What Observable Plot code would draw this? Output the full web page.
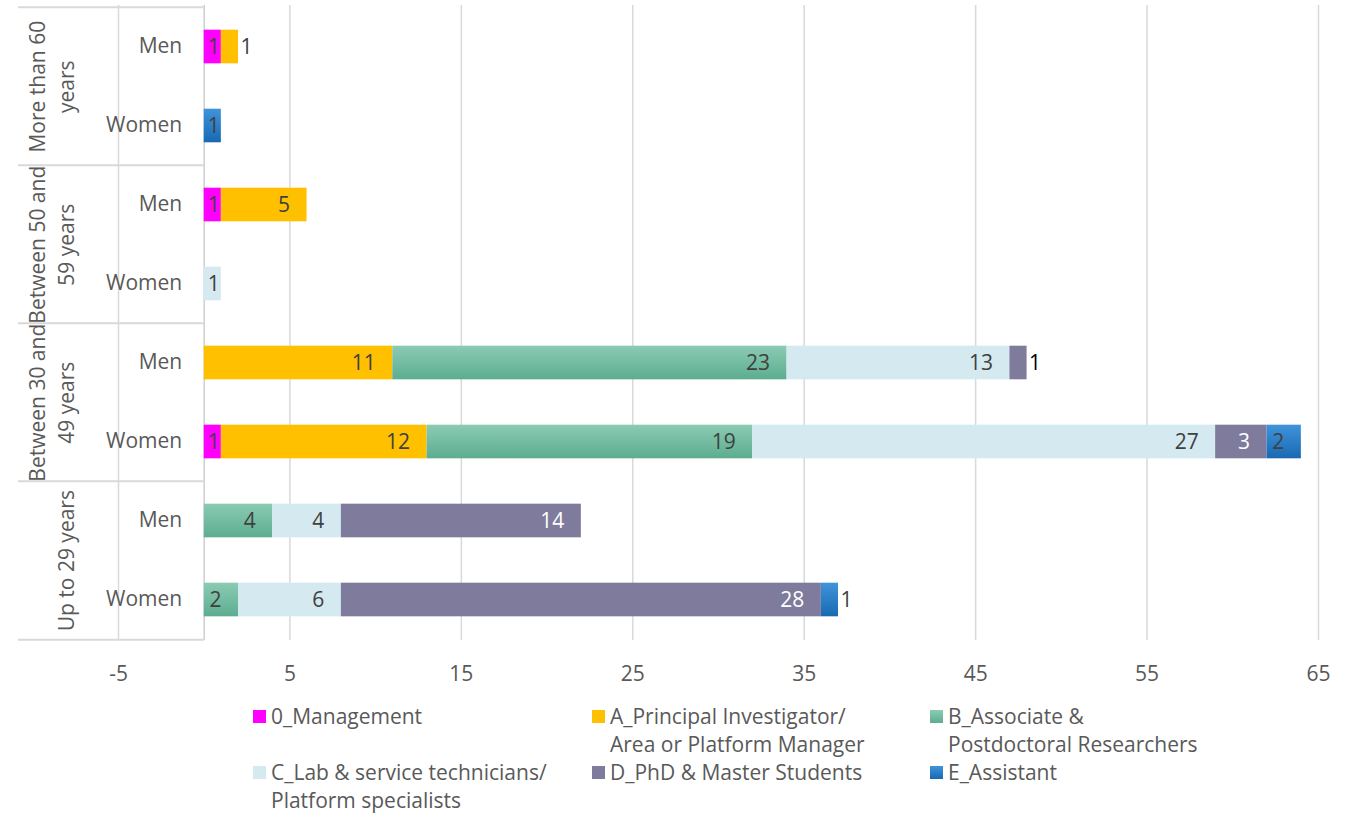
<!DOCTYPE html>
<html>
<head>
<meta charset="utf-8">
<script src="https://cdn.jsdelivr.net/npm/d3@7"></script>
<script src="https://cdn.jsdelivr.net/npm/@observablehq/plot@0.6"></script>
<style>
  body { margin: 0; background: #fff; font-family: "Open Sans", sans-serif; }
  #chart svg { display: block; }
  #legend { position: relative; width: 1350px; height: 123px; }
  .item { position: absolute; display: flex; align-items: flex-start; font-size: 21px; line-height: 28px; color: #595959; white-space: nowrap; }
  .sw { width: 13px; height: 13px; margin-top: 8px; margin-right: 5px; flex: none; }
</style>
</head>
<body>
<div id="chart"></div>
<div id="legend"></div>
<script>
// ---- data ----
const ageGroups = ["More than 60 years", "Between 50 and 59 years", "Between 30 and 49 years", "Up to 29 years"];
const ageLabels = ["More than 60\nyears", "Between 50 and\n59 years", "Between 30 and\n49 years", "Up to 29 years"];
const genders = ["Men", "Women"];
const series = [
  "0_Management",
  "A_Principal Investigator/ Area or Platform Manager",
  "B_Associate & Postdoctoral Researchers",
  "C_Lab & service technicians/ Platform specialists",
  "D_PhD & Master Students",
  "E_Assistant"
];
const legendLines = [
  ["0_Management"],
  ["A_Principal Investigator/", "Area or Platform Manager"],
  ["B_Associate &", "Postdoctoral Researchers"],
  ["C_Lab & service technicians/", "Platform specialists"],
  ["D_PhD & Master Students"],
  ["E_Assistant"]
];
// row order: 60+ Men, 60+ Women, 50-59 Men, 50-59 Women, 30-49 Men, 30-49 Women, <=29 Men, <=29 Women
const management = [1, 0, 1, 0, 0, 1, 0, 0];
const principal  = [1, 0, 5, 0, 11, 12, 0, 0];
const associate  = [0, 0, 0, 0, 23, 19, 4, 2];
const labTech    = [0, 0, 0, 1, 13, 27, 4, 6];
const phd        = [0, 0, 0, 0, 1, 3, 14, 28];
const assistant  = [0, 1, 0, 0, 0, 2, 0, 1];
const xTicks = [-5, 5, 15, 25, 35, 45, 55, 65];

const seriesValues = [management, principal, associate, labTech, phd, assistant];
const colors = ["#FF00FF", "#FFC000", "url(#gradB)", "#D5E9F0", "#7F7B9D", "url(#gradE)"];
const swatchCss = ["#FF00FF", "#FFC000", "linear-gradient(#8ACBB3,#5DAD90)", "#D5E9F0", "#7F7B9D", "linear-gradient(#4094DA,#1869B2)"];

// ---- build table ----
const rows = [];
ageGroups.forEach(a => genders.forEach(g => rows.push({key: a + "|" + g, age: a, gender: g})));
const data = [];
rows.forEach((r, i) => {
  const present = series.map((s, j) => seriesValues[j][i]).map((v, j) => ({v, j})).filter(o => o.v > 0);
  present.forEach((o, k) => {
    data.push({
      row: r.key, series: series[o.j], value: o.v,
      first: k === 0, last: k === present.length - 1
    });
  });
});
data.forEach(d => {
  d.outside = d.last && !d.first && d.value === 1;
  d.narrow = !d.outside && d.value === 1;
});
const groups = ageGroups.map((a, i) => ({row: a + "|" + genders[0], label: ageLabels[i]}));
const lastRow = rows[rows.length - 1].key;

// ---- layout ----
const W = 1350, H = 690, mT = 5, mB = 50, mL = 118, mR = 32;
const step = (H - mT - mB) / rows.length;
const barInset = (step - 34) / 2;
const lineColor = "#D9D9D9";
const fs = 21;
const isD = d => d.series === series[4];

const plot = Plot.plot({
  width: W, height: H,
  marginTop: mT, marginBottom: mB, marginLeft: mL, marginRight: mR,
  style: {fontFamily: '"Open Sans", sans-serif', fontSize: fs + "px", color: "#595959", background: "#fff"},
  x: {domain: [-5, 65], label: null},
  y: {domain: rows.map(r => r.key), padding: 0, axis: null},
  color: {domain: series, range: colors},
  marks: [
    Plot.gridX(xTicks, {stroke: lineColor, strokeOpacity: 1, strokeWidth: 1.5}),
    Plot.ruleX([0], {stroke: "#CFCFCF", strokeWidth: 1.5}),
    Plot.ruleY(groups, {y: "row", x1: -5, x2: 0, insetLeft: -100, dy: -step / 2, stroke: lineColor, strokeWidth: 2}),
    Plot.ruleY([lastRow], {y: d => d, x1: -5, x2: 0, insetLeft: -100, dy: step / 2, stroke: lineColor, strokeWidth: 2}),
    Plot.axisX({ticks: xTicks, tickFormat: d => String(d), tickSize: 0, tickPadding: 26, fontSize: fs, fill: "#595959", label: null}),
    Plot.text(rows, {x: 0, y: "key", text: "gender", textAnchor: "end", dx: -22, dy: -1, fontSize: fs, fill: "#595959"}),
    Plot.text(groups, {x: -5, y: "row", text: "label", rotate: -90, lineAnchor: "bottom", lineHeight: 1.35,
      textAnchor: "middle", dx: -45, dy: step / 2, fontSize: fs, fill: "#595959"}),
    Plot.barX(data, Plot.stackX({x: "value", y: "row", z: "series", order: series, fill: "series",
      insetTop: barInset, insetBottom: barInset, ariaLabel: "bars"})),
    Plot.text(data, Plot.stackX2({x: "value", y: "row", z: "series", order: series,
      text: d => (d.outside || d.narrow) ? null : String(d.value),
      textAnchor: "end", dx: -17, fontSize: fs, fill: d => isD(d) ? "#FFFFFF" : "#404040"})),
    Plot.text(data, Plot.stackX({x: "value", y: "row", z: "series", order: series,
      text: d => d.narrow ? String(d.value) : null,
      textAnchor: "middle", dx: 1, fontSize: fs, fill: d => isD(d) ? "#FFFFFF" : "#404040"})),
    Plot.text(data, Plot.stackX2({x: "value", y: "row", z: "series", order: series,
      text: d => d.outside ? String(d.value) : null,
      textAnchor: "start", dx: 2, fontSize: fs, fill: d => isD(d) ? "#000000" : "#404040"}))
  ]
});

// gradients + shadow
const svg = d3.select(plot);
const defs = svg.insert("defs", ":first-child");
[["gradB", "#8ACBB3", "#5DAD90"], ["gradE", "#4094DA", "#1869B2"]].forEach(([id, c1, c2]) => {
  const g = defs.append("linearGradient").attr("id", id).attr("x1", 0).attr("y1", 0).attr("x2", 0).attr("y2", 1);
  g.append("stop").attr("offset", "0%").attr("stop-color", c1);
  g.append("stop").attr("offset", "100%").attr("stop-color", c2);
});
svg.selectAll('g[aria-label="bars"]').style("filter", "drop-shadow(2px 3px 2.5px rgba(0,0,0,0.35))");

document.getElementById("chart").appendChild(plot);

// legend
const legend = d3.select("#legend");
const legendX = [253, 592, 930];
const legendY = [12, 68];
series.forEach((s, i) => {
  const item = legend.append("div").attr("class", "item")
    .style("left", legendX[i % 3] + "px").style("top", legendY[Math.floor(i / 3)] + "px");
  item.append("div").attr("class", "sw").style("background", swatchCss[i]);
  item.append("div").html(legendLines[i].join("<br>"));
});
</script>
</body>
</html>
